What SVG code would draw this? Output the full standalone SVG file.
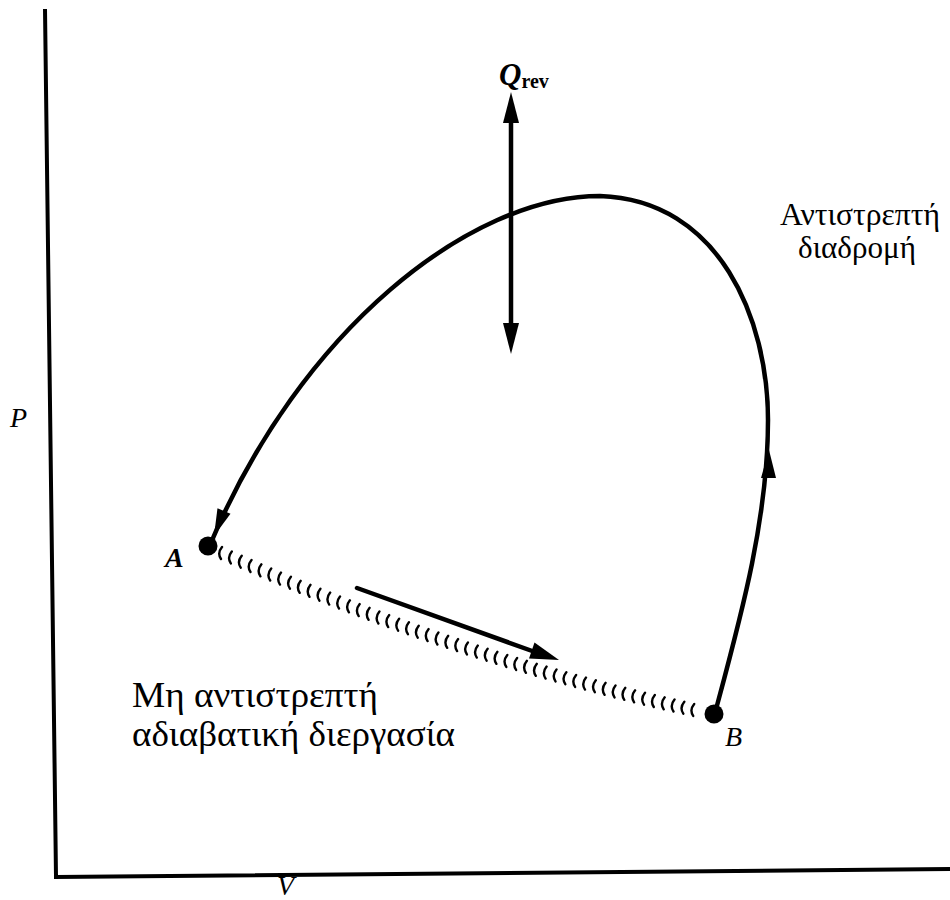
<svg xmlns="http://www.w3.org/2000/svg" width="950" height="900" viewBox="0 0 950 900">
<defs>
<style>
.line{fill:none;stroke:#000;stroke-width:4.5;stroke-linecap:round}
.axis{fill:none;stroke:#000;stroke-width:4}
.head{fill:#000}
.lbl{font-family:"Liberation Serif","DejaVu Serif",serif;font-size:35px;fill:#000}
.lbl2{font-family:"Liberation Serif","DejaVu Serif",serif;font-size:31px;fill:#000}
.var{font-family:"Liberation Serif","DejaVu Serif",serif;font-style:italic;font-size:28px;fill:#000}
.tick{fill:none;stroke:#000;stroke-width:2.4;stroke-linecap:round}
</style>
</defs>
<rect width="950" height="900" fill="#fff"/>
<g id="axes">
<path class="axis" d="M45 9 L56 877 L950 869"/>
<text class="var" x="10" y="427">P</text>
<text class="var" x="277" y="895" font-size="24">V</text>
</g>
<g id="connectors">
<path id="reversible-path" class="line" d="M715 713 C740 620 768 520 768 420 C768 320 720 200 600 196 C470 196 300 330 210 545"/>
<polygon class="head" points="214,536 230.5,513.7 217.5,508.3"/>
<polygon class="head" points="769,450 761,478 776,478"/>
<path id="irreversible-path" class="tick" d="M222 547q-5 6-1 12M231.8 551.4q-5 6-1 12M241.7 555.7q-5 6-1 12M251.5 560q-5 6-1 12M261.4 564.3q-5 6-1 12M271.2 568.5q-5 6-1 12M281 572.6q-5 6-1 12M290.9 576.7q-5 6-1 12M300.7 580.8q-5 6-1 12M310.5 584.8q-5 6-1 12M320.4 588.7q-5 6-1 12M330.2 592.6q-5 6-1 12M340 596.5q-5 6-1 12M349.9 600.3q-5 6-1 12M359.7 604.1q-5 6-1 12M369.6 607.8q-5 6-1 12M379.4 611.5q-5 6-1 12M389.2 615.1q-5 6-1 12M399.1 618.7q-5 6-1 12M408.9 622.2q-5 6-1 12M418.7 625.7q-5 6-1 12M428.6 629.1q-5 6-1 12M438.4 632.5q-5 6-1 12M448.2 635.8q-5 6-1 12M458.1 639.1q-5 6-1 12M467.9 642.4q-5 6-1 12M477.8 645.6q-5 6-1 12M487.6 648.7q-5 6-1 12M497.4 651.8q-5 6-1 12M507.3 654.9q-5 6-1 12M517.1 657.9q-5 6-1 12M526.9 660.8q-5 6-1 12M536.8 663.8q-5 6-1 12M546.6 666.6q-5 6-1 12M556.5 669.4q-5 6-1 12M566.3 672.2q-5 6-1 12M576.1 674.9q-5 6-1 12M586 677.6q-5 6-1 12M595.8 680.2q-5 6-1 12M605.6 682.8q-5 6-1 12M615.5 685.4q-5 6-1 12M625.3 687.8q-5 6-1 12M635.1 690.3q-5 6-1 12M645 692.7q-5 6-1 12M654.8 695q-5 6-1 12M664.7 697.3q-5 6-1 12M674.5 699.5q-5 6-1 12M684.3 701.7q-5 6-1 12M694.2 703.9q-5 6-1 12"/>
<path class="line" d="M357 588 L535 652"/>
<polygon class="head" points="559,660 529,658.5 534.5,642.5"/>
<path class="line" d="M511 115 L511 330"/>
<polygon class="head" points="511,92 503,123 519,123"/>
<polygon class="head" points="511,354 503,323 519,323"/>
</g>
<g id="node-A">
<circle cx="208" cy="546" r="9.5" fill="#000"/>
<text class="var" x="165" y="567" font-weight="bold">A</text>
</g>
<g id="node-B">
<circle cx="714" cy="714" r="9.5" fill="#000"/>
<text class="var" x="725" y="746">B</text>
</g>
<g id="label-qrev">
<text x="499" y="85" style="font-family:'Liberation Serif','DejaVu Serif',serif;font-style:italic;font-weight:bold;font-size:31px">Q<tspan font-style="normal" font-size="20" dy="3">rev</tspan></text>
</g>
<g id="label-reversible">
<text class="lbl2" x="780" y="225" textLength="160" lengthAdjust="spacingAndGlyphs">Αντιστρεπτή</text>
<text class="lbl2" x="798" y="258" textLength="118" lengthAdjust="spacingAndGlyphs">διαδρομή</text>
</g>
<g id="label-irreversible">
<text class="lbl" x="132" y="707" textLength="246" lengthAdjust="spacingAndGlyphs">Μη αντιστρεπτή</text>
<text class="lbl" x="132" y="746" textLength="323" lengthAdjust="spacingAndGlyphs">αδιαβατική διεργασία</text>
</g>
</svg>
